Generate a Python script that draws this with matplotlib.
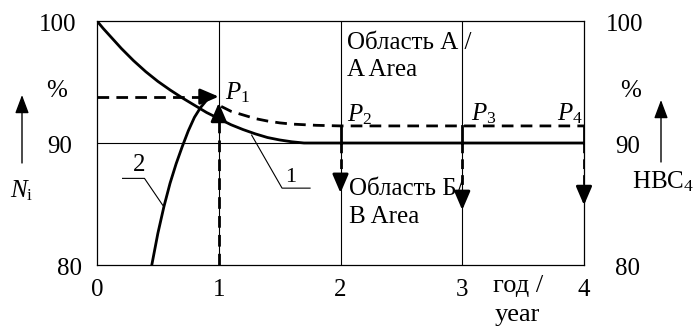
import matplotlib
matplotlib.use("Agg")
import matplotlib.pyplot as plt

plt.rcParams['font.family'] = ['Liberation Serif', 'DejaVu Serif']
plt.rcParams['mathtext.fontset'] = 'custom'
plt.rcParams['mathtext.rm'] = 'Liberation Serif'
plt.rcParams['mathtext.it'] = 'Liberation Serif:italic'

# --- data ---
years = [0, 1, 2, 3, 4]
pct_ticks = [80, 90, 100]

# curve 1 (solid, decays to 90 %)
c1_x = [0, 0.05, 0.1, 0.15, 0.2, 0.25, 0.3, 0.4, 0.5, 0.6, 0.7, 0.8, 0.9,
        1.0, 1.1, 1.2, 1.3, 1.4, 1.5, 1.6, 1.7, 4.0]
c1_y = [100, 99.4, 98.85, 98.3, 97.75, 97.25, 96.75, 95.85, 95.05, 94.35,
        93.7, 93.1, 92.5, 92.0, 91.5, 91.1, 90.75, 90.45, 90.25, 90.1, 90.0, 90.0]

# curve 2 (solid, rising to P1)
c2_x = [0.45, 0.50, 0.55, 0.60, 0.65, 0.70, 0.75, 0.80, 0.85, 0.90, 0.95]
c2_y = [80.0, 82.6, 84.8, 86.7, 88.3, 89.7, 91.0, 92.1, 92.9, 93.5, 93.8]

# dashed curve from P1 to P4
c3_x = [1.02, 1.1, 1.2, 1.3, 1.4, 1.5, 1.6, 1.8, 2.0, 4.0]
c3_y = [93.0, 92.6, 92.3, 92.0, 91.8, 91.65, 91.55, 91.45, 91.4, 91.4]

p1_level = 93.8      # dashed horizontal to P1
p1_tip = 93.3        # dashed vertical at year 1
drop_x = [2, 3, 4]
drop_tip = [85.9, 84.5, 84.9]
p_names = [r'$P_{\mathrm{1}}$', r'$P_{\mathrm{2}}$', r'$P_{\mathrm{3}}$', r'$P_{\mathrm{4}}$']

W, H = 696, 327
fig = plt.figure(figsize=(W / 100, H / 100), dpi=100)
ax = fig.add_axes([97 / W, 1 - 265 / H, 487 / W, 244 / H])
ax.set_xlim(0, 4)
ax.set_ylim(80, 100)
for s in ax.spines.values():
    s.set_linewidth(0.9)
ax.set_xticks([])
ax.set_yticks([])

# thin grid
for x in years[1:4]:
    ax.axvline(x, color='k', lw=0.8)
ax.axhline(90, color='k', lw=0.8)

lw = 2.0
dash = (4.2, 2.6)
ax.plot(c1_x, c1_y, color='k', lw=lw, solid_capstyle='butt')
ax.plot(c2_x, c2_y, color='k', lw=lw)
ax.plot(c3_x, c3_y, color='k', lw=lw, dashes=dash)

ah = dict(arrowstyle='-|>,head_length=0.7,head_width=0.3', color='k', lw=lw,
          mutation_scale=16, shrinkA=0, shrinkB=0)

# dashed horizontal to P1
ax.plot([0, 0.93], [p1_level, p1_level], color='k', lw=lw, dashes=dash)
ax.annotate('', xy=(1, p1_level), xytext=(0.92, p1_level), arrowprops=ah)
# dashed vertical at year 1
ax.plot([1, 1], [80, p1_tip - 0.8], color='k', lw=lw, dashes=dash)
ax.annotate('', xy=(1, p1_tip), xytext=(1, p1_tip - 0.9), arrowprops=ah)

# drops at years 2..4
for x, tip in zip(drop_x, drop_tip):
    ax.plot([x, x], [c3_y[-1], 90], color='k', lw=lw)
    ax.plot([x, x], [90, tip + 0.8], color='k', lw=lw, dashes=(3.5, 2.2))
    ax.annotate('', xy=(x, tip), xytext=(x, tip + 0.9), arrowprops=ah)

fs = 17
# P labels
ax.text(1.05, 94.1, p_names[0], fontsize=18, ha='left', va='center')
ax.text(2.05, 92.3, p_names[1], fontsize=18, ha='left', va='center')
ax.text(3.07, 92.4, p_names[2], fontsize=18, ha='left', va='center')
ax.text(3.99, 92.4, p_names[3], fontsize=18, ha='right', va='center')

# area labels
ax.text(2.05, 98.2, 'Область А /', fontsize=18, ha='left', va='center')
ax.text(2.05, 96.0, 'A Area', fontsize=18, ha='left', va='center')
ax.text(2.07, 86.2, 'Область Б/', fontsize=18, ha='left', va='center')
ax.text(2.07, 83.9, 'B Area', fontsize=18, ha='left', va='center')

# leader lines for curve labels
ax.plot([1.27, 1.52, 1.75], [90.65, 86.3, 86.3], color='k', lw=0.8)
ax.text(1.59, 87.2, '1', fontsize=16, ha='center', va='center')
ax.plot([0.54, 0.39, 0.21], [84.9, 87.1, 87.1], color='k', lw=0.8)
ax.text(0.345, 88.2, '2', fontsize=18, ha='center', va='center')


def ftext(px, py, s, **kw):
    fig.text(px / W, 1 - py / H, s, fontsize=kw.pop('fontsize', fs),
             ha=kw.pop('ha', 'center'), va=kw.pop('va', 'center'), **kw)


# y labels left / right
for v, lx, rx in zip(pct_ticks, [69, 60, 58], [628, 628, 625]):
    py = 265 - (v - 80) * 12.2
    ftext(lx, py + 4, str(v), fontsize=18)
    ftext(rx, py + 4, str(v), fontsize=18)
ftext(57, 91, '%', fontsize=18)
ftext(631, 91, '%', fontsize=18)

# x labels
for x in years:
    ftext(97 + x * 121.7, 290, str(x), fontsize=18)
ftext(518, 286, 'год /', fontsize=19)
ftext(517, 315, 'year', fontsize=19)

# side arrows
sa = dict(arrowstyle='-|>,head_length=0.8,head_width=0.3', color='k', lw=1.0,
          mutation_scale=14, shrinkA=0, shrinkB=0)
fig.add_artist(matplotlib.patches.FancyArrowPatch(
    (22 / W, 1 - 163 / H), (22 / W, 1 - 95 / H), transform=fig.transFigure, **sa))
fig.add_artist(matplotlib.patches.FancyArrowPatch(
    (661 / W, 1 - 162 / H), (661 / W, 1 - 100 / H), transform=fig.transFigure, **sa))
ftext(22, 191, r'$N_{\mathrm{i}}$', fontsize=18)
ftext(694, 182, r'HBC$_{\mathrm{4}}$', ha='right', fontsize=18)

fig.savefig('out.png', dpi=100)
